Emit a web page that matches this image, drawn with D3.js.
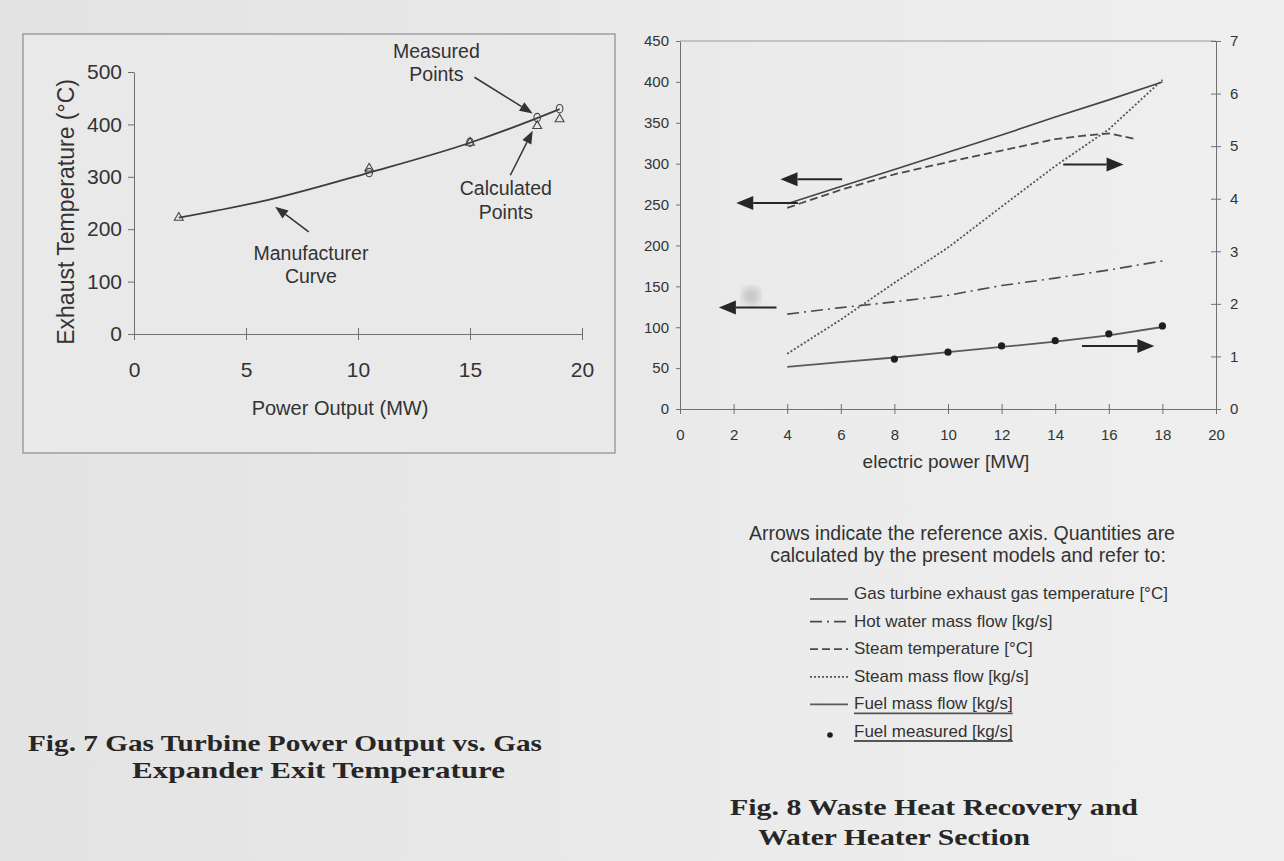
<!DOCTYPE html>
<html>
<head>
<meta charset="utf-8">
<script src="https://cdn.jsdelivr.net/npm/d3@7"></script>
<style>
  html, body { margin: 0; padding: 0; background: #e8e8e8; }
  svg { display: block; }
  text { font-family: 'Liberation Sans', Arial, sans-serif; fill: #333; }
  .caption { font-family: 'Liberation Serif', 'Times New Roman', serif; font-weight: bold; fill: #262626; }
</style>
</head>
<body>
<div id="page"></div>
<script>
// ---- Fig. 7 data ----
const manufPower = [2, 6, 10.5, 15, 18, 19];
const manufTemp = [222, 256, 308, 365, 412, 429];
const calcPower = [2, 10.5, 15, 18, 19];
const calcTemp = [222, 316, 365, 397, 410];
const measPower = [10.5, 15, 18, 19];
const measTemp = [308, 366, 413, 430];
const fig7XTicks = [0, 5, 10, 15, 20];
const fig7YTicks = [0, 100, 200, 300, 400, 500];

// ---- Fig. 8 data ----
const electricPower = [4, 6, 8, 10, 12, 14, 16, 18];
const exhaustTemp = [251, 272, 293, 314, 335, 357, 378, 400];
const hotWaterFlow = [116, 124, 131, 139, 151, 160, 170, 181];
const steamTempPower = [4, 6, 8, 10, 12, 14, 15, 16, 17];
const steamTemp = [246, 268, 287, 302, 316, 330, 334, 337, 330];
const steamFlow = [1.05, 1.70, 2.40, 3.07, 3.85, 4.62, 5.32, 6.26];
const fuelFlow = [0.80, 0.89, 0.98, 1.08, 1.18, 1.28, 1.40, 1.56];
const fuelMeasPower = [8, 10, 12, 14, 16, 18];
const fuelMeasured = [0.95, 1.08, 1.20, 1.30, 1.43, 1.58];
const fig8XTicks = d3.range(0, 21, 2);
const fig8LeftTicks = d3.range(0, 451, 50);
const fig8RightTicks = d3.range(0, 8, 1);

const legendLabels = [
  'Gas turbine exhaust gas temperature [°C]',
  'Hot water mass flow [kg/s]',
  'Steam temperature [°C]',
  'Steam mass flow [kg/s]',
  'Fuel mass flow [kg/s]',
  'Fuel measured [kg/s]',
];

const svg = d3.select('#page')
  .append('svg')
  .attr('width', 1284)
  .attr('height', 861);

const defs = svg.append('defs');
const paper = defs.append('linearGradient').attr('id', 'paper').attr('x1', 0).attr('x2', 1);
paper.append('stop').attr('offset', '0%').attr('stop-color', '#e3e3e3');
paper.append('stop').attr('offset', '60%').attr('stop-color', '#ebebeb');
paper.append('stop').attr('offset', '100%').attr('stop-color', '#efefef');
defs.append('filter').attr('id', 'blur')
  .append('feGaussianBlur').attr('stdDeviation', 4);

svg.append('rect')
  .attr('width', 1284)
  .attr('height', 861)
  .attr('fill', 'url(#paper)');

function styleAxis(g, size) {
  g.attr('font-size', size);
  g.select('.domain').attr('stroke', '#707070');
  g.selectAll('.tick line').attr('stroke', '#707070');
}

function arrow(g, x1, y1, x2, y2, o) {
  const ang = Math.atan2(y2 - y1, x2 - x1);
  const bx = x2 - o.head * Math.cos(ang);
  const by = y2 - o.head * Math.sin(ang);
  const px = -Math.sin(ang) * o.half;
  const py = Math.cos(ang) * o.half;
  g.append('line')
    .attr('x1', x1).attr('y1', y1)
    .attr('x2', bx).attr('y2', by)
    .attr('stroke', o.color)
    .attr('stroke-width', o.width);
  g.append('path')
    .attr('d', `M${x2},${y2}L${bx + px},${by + py}L${bx - px},${by - py}Z`)
    .attr('fill', o.color);
}

// scanned captions are wide, so stretch them to the measured width
function caption(g, x, y, width, str) {
  g.append('text').attr('class', 'caption')
    .attr('x', x).attr('y', y)
    .attr('font-size', 23.5)
    .attr('textLength', width)
    .attr('lengthAdjust', 'spacingAndGlyphs')
    .text(str);
}

// ================= Fig. 7 =================
const x7 = d3.scaleLinear().domain([0, 20]).range([134, 582]);
const y7 = d3.scaleLinear().domain([0, 500]).range([334, 72]);
const g7 = svg.append('g');

g7.append('rect')
  .attr('x', 23).attr('y', 34)
  .attr('width', 592).attr('height', 419)
  .attr('fill', '#e9e9e9')
  .attr('stroke', '#8c8c8c')
  .attr('stroke-width', 1.2);

g7.append('g')
  .attr('transform', `translate(0,${y7(0)})`)
  .call(d3.axisBottom(x7).tickValues(fig7XTicks).tickSize(6).tickSizeOuter(0).tickPadding(22))
  .call(styleAxis, 21)
  .call((g) => g.selectAll('.tick line').attr('y1', -6));

g7.append('g')
  .attr('transform', `translate(${x7(0)},0)`)
  .call(d3.axisLeft(y7).tickValues(fig7YTicks).tickSize(6).tickSizeOuter(0).tickPadding(6))
  .call(styleAxis, 21);

g7.append('text')
  .attr('x', 340)
  .attr('y', 415)
  .attr('text-anchor', 'middle')
  .attr('font-size', 20)
  .text('Power Output (MW)');

g7.append('text')
  .attr('transform', `translate(74,${y7(233)}) rotate(-90)`)
  .attr('text-anchor', 'middle')
  .attr('font-size', 23)
  .text('Exhaust Temperature (°C)');

const line7 = d3.line()
  .x((d) => x7(d[0]))
  .y((d) => y7(d[1]))
  .curve(d3.curveMonotoneX);

g7.append('path')
  .datum(d3.zip(manufPower, manufTemp))
  .attr('d', line7)
  .attr('fill', 'none')
  .attr('stroke', '#3c3c3c')
  .attr('stroke-width', 1.8);

g7.selectAll('.calc')
  .data(d3.zip(calcPower, calcTemp))
  .enter().append('path')
  .attr('class', 'calc')
  .attr('transform', (d) => `translate(${x7(d[0])},${y7(d[1])})`)
  .attr('d', d3.symbol(d3.symbolTriangle, 34))
  .attr('fill', 'none')
  .attr('stroke', '#444')
  .attr('stroke-width', 1.1);

g7.selectAll('.meas')
  .data(d3.zip(measPower, measTemp))
  .enter().append('ellipse')
  .attr('class', 'meas')
  .attr('cx', (d) => x7(d[0]))
  .attr('cy', (d) => y7(d[1]))
  .attr('rx', 3.3)
  .attr('ry', 4.2)
  .attr('fill', 'none')
  .attr('stroke', '#444')
  .attr('stroke-width', 1.1);

const arrow7 = { head: 13, half: 5, width: 1.5, color: '#333' };
arrow(g7, x7(15.2), y7(490), x7(17.8), y7(421), arrow7);
arrow(g7, x7(16.8), y7(303), x7(17.8), y7(388), arrow7);
arrow(g7, x7(7.8), y7(195), x7(6.3), y7(243), arrow7);

const notes7 = [
  { x: 13.5, y: 527, t: 'Measured' },
  { x: 13.5, y: 483, t: 'Points' },
  { x: 16.6, y: 265, t: 'Calculated' },
  { x: 16.6, y: 220, t: 'Points' },
  { x: 7.9, y: 141, t: 'Manufacturer' },
  { x: 7.9, y: 97, t: 'Curve' },
];
g7.selectAll('.note')
  .data(notes7)
  .enter().append('text')
  .attr('class', 'note')
  .attr('x', (d) => x7(d.x))
  .attr('y', (d) => y7(d.y))
  .attr('text-anchor', 'middle')
  .attr('font-size', 19.5)
  .text((d) => d.t);

caption(g7, 28, 751, 514, 'Fig. 7 Gas Turbine Power Output vs. Gas');
caption(g7, 132, 778, 373, 'Expander Exit Temperature');

// ================= Fig. 8 =================
const x8 = d3.scaleLinear().domain([0, 20]).range([680, 1216]);
const yL = d3.scaleLinear().domain([0, 450]).range([409, 41]);
const yR = d3.scaleLinear().domain([0, 7]).range([409, 41]);
const g8 = svg.append('g');

g8.append('circle')
  .attr('cx', 751).attr('cy', 296).attr('r', 9)
  .attr('fill', '#c4c4c4')
  .attr('filter', 'url(#blur)');

g8.append('line')
  .attr('x1', x8(0)).attr('x2', x8(20))
  .attr('y1', yL(450)).attr('y2', yL(450))
  .attr('stroke', '#9a9a9a');

g8.append('g')
  .attr('transform', `translate(0,${yL(0)})`)
  .call(d3.axisBottom(x8).tickValues(fig8XTicks).tickSize(5).tickSizeOuter(0).tickPadding(15))
  .call(styleAxis, 15)
  .call((g) => g.selectAll('.tick line').attr('y1', -5));

g8.append('g')
  .attr('transform', `translate(${x8(0)},0)`)
  .call(d3.axisLeft(yL).tickValues(fig8LeftTicks).tickSize(4).tickSizeOuter(0).tickPadding(7))
  .call(styleAxis, 15);

g8.append('g')
  .attr('transform', `translate(${x8(20)},0)`)
  .call(d3.axisRight(yR).tickValues(fig8RightTicks).tickFormat(d3.format('d'))
    .tickSize(5).tickSizeOuter(0).tickPadding(9))
  .call(styleAxis, 15)
  .call((g) => g.selectAll('.tick line').attr('x1', -5));

g8.append('text')
  .attr('x', 946).attr('y', 468)
  .attr('text-anchor', 'middle')
  .attr('font-size', 19)
  .text('electric power [MW]');

const lineL = d3.line().x((d) => x8(d[0])).y((d) => yL(d[1]));
const lineR = d3.line().x((d) => x8(d[0])).y((d) => yR(d[1]));

const series8 = [
  { data: d3.zip(electricPower, exhaustTemp), gen: lineL, dash: null, w: 1.6, c: '#444' },
  { data: d3.zip(electricPower, hotWaterFlow), gen: lineL, dash: '12,5,2,5', w: 1.6, c: '#4a4a4a' },
  { data: d3.zip(steamTempPower, steamTemp), gen: lineL, dash: '8,4', w: 1.8, c: '#4a4a4a' },
  { data: d3.zip(electricPower, steamFlow), gen: lineR, dash: '2,2', w: 1.8, c: '#555' },
  { data: d3.zip(electricPower, fuelFlow), gen: lineR, dash: null, w: 1.8, c: '#5a5a5a' },
];

g8.selectAll('.series')
  .data(series8)
  .enter().append('path')
  .attr('class', 'series')
  .attr('d', (d) => d.gen(d.data))
  .attr('fill', 'none')
  .attr('stroke', (d) => d.c)
  .attr('stroke-width', (d) => d.w)
  .attr('stroke-dasharray', (d) => d.dash);

g8.selectAll('.fuel-dot')
  .data(d3.zip(fuelMeasPower, fuelMeasured))
  .enter().append('circle')
  .attr('class', 'fuel-dot')
  .attr('cx', (d) => x8(d[0]))
  .attr('cy', (d) => yR(d[1]))
  .attr('r', 3.6)
  .attr('fill', '#1e1e1e');

// arrows pointing at the reference axis (positions in left-axis units)
const arrows8 = [
  { from: [6.05, 281], to: [3.75, 281] },
  { from: [4.4, 252], to: [2.1, 252] },
  { from: [14.3, 299], to: [16.55, 299] },
  { from: [3.6, 124], to: [1.45, 124] },
  { from: [15.0, 77], to: [17.7, 77] },
];
const arrow8 = { head: 17, half: 7, width: 2, color: '#262626' };
arrows8.forEach((a) => {
  arrow(g8, x8(a.from[0]), yL(a.from[1]), x8(a.to[0]), yL(a.to[1]), arrow8);
});

g8.append('text')
  .attr('x', 962).attr('y', 540)
  .attr('text-anchor', 'middle')
  .attr('font-size', 19.5)
  .text('Arrows indicate the reference axis. Quantities are');
g8.append('text')
  .attr('x', 968).attr('y', 562)
  .attr('text-anchor', 'middle')
  .attr('font-size', 19.5)
  .text('calculated by the present models and refer to:');

// legend
const legendY = d3.scalePoint().domain(legendLabels).range([594, 732]);
const legend = g8.selectAll('.legend')
  .data(legendLabels)
  .enter().append('g')
  .attr('class', 'legend')
  .attr('transform', (d) => `translate(0,${legendY(d)})`);

legend.append('text')
  .attr('x', 854)
  .attr('y', 5)
  .attr('font-size', 17)
  .text((d) => d);

legend.filter((d, i) => i < 5)
  .append('line')
  .attr('x1', 810).attr('x2', 848)
  .attr('y1', (d, i) => (i === 0 ? 5 : 0)).attr('y2', (d, i) => (i === 0 ? 5 : 0))
  .attr('stroke', (d, i) => series8[i].c)
  .attr('stroke-width', (d, i) => series8[i].w)
  .attr('stroke-dasharray', (d, i) => series8[i].dash);

legend.filter((d, i) => i === 5)
  .append('circle')
  .attr('cx', 830).attr('cy', 3)
  .attr('r', 2.8)
  .attr('fill', '#1e1e1e');

legend.filter((d, i) => i >= 4)
  .each(function () {
    const el = d3.select(this);
    const len = el.select('text').node().getComputedTextLength();
    el.append('line')
      .attr('x1', 854).attr('x2', 854 + len)
      .attr('y1', 9).attr('y2', 9)
      .attr('stroke', '#555')
      .attr('stroke-width', 1.8);
  });

caption(g8, 730, 815, 408, 'Fig. 8 Waste Heat Recovery and');
caption(g8, 758, 845, 272, 'Water Heater Section');
</script>
</body>
</html>
